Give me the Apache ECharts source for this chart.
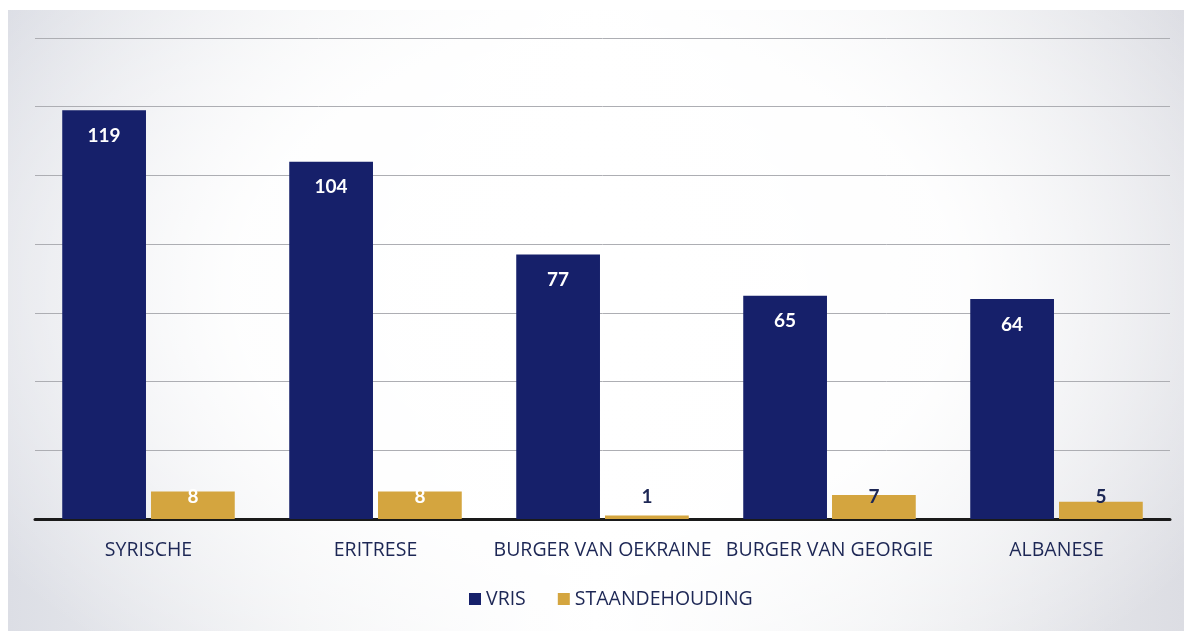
<!DOCTYPE html>
<html>
<head>
<meta charset="utf-8">
<script src="https://cdn.jsdelivr.net/npm/echarts@6/dist/echarts.min.js"></script>
<style>
  html, body { margin: 0; padding: 0; background: #ffffff; }
  #wrap { position: relative; width: 1184px; height: 631px; overflow: hidden; background: #ffffff; }
  #panel {
    position: absolute; left: 8px; top: 10px; width: 1176px; height: 621px;
    background:
      radial-gradient(ellipse 62% 78% at 50% 45%, rgba(255,255,255,1) 0%, rgba(255,255,255,0.92) 50%, rgba(255,255,255,0) 100%),
      linear-gradient(90deg, #dcdee5 0%, #f0f1f3 25%, #ffffff 50%, #eff0f2 75%, #dcdde3 100%);
  }
  #chart { position: absolute; left: 0; top: 0; width: 1184px; height: 631px; }
</style>
</head>
<body>
<div id="wrap">
  <div id="panel"></div>
  <div id="chart"></div>
</div>
<script>
// Nationalities and counts per measure
const categories = ['SYRISCHE', 'ERITRESE', 'BURGER VAN OEKRAINE', 'BURGER VAN GEORGIE', 'ALBANESE'];
const vris = [119, 104, 77, 65, 64];
const staandehouding = [8, 8, 1, 7, 5];
// Small counts whose label is written in dark text instead of white
const darkLabelIndex = [2, 3, 4];

const NAVY = '#16206a';
const GOLD = '#d4a53f';
const TEXT = '#1d2755';
const FONT = '"Open Sans", Lato, sans-serif';
const NUM_FONT = 'Lato, "Open Sans", sans-serif';

const chart = echarts.init(document.getElementById('chart'), null, { renderer: 'canvas' });

chart.setOption({
  backgroundColor: 'transparent',
  animation: false,
  grid: { left: 35, right: 14, top: 38, bottom: 112, containLabel: false },
  legend: {
    bottom: 17,
    left: 464,
    itemWidth: 12,
    itemHeight: 12,
    itemGap: 32,
    itemTextGap: 6,
    icon: 'rect',
    textStyle: { color: TEXT, fontFamily: FONT, fontSize: 19.5 },
    data: ['VRIS', 'STAANDEHOUDING']
  },
  xAxis: {
    type: 'category',
    data: categories,
    axisLine: { show: true, lineStyle: { color: '#1a1a1a', width: 3 } },
    axisTick: { show: false },
    axisLabel: { color: TEXT, fontFamily: FONT, fontSize: 19.5, margin: 21, interval: 0 }
  },
  yAxis: {
    type: 'value',
    min: 0,
    max: 140,
    interval: 20,
    axisLine: { show: false },
    axisTick: { show: false },
    axisLabel: { show: false },
    splitLine: { lineStyle: { color: '#adaeb3', width: 1 } }
  },
  series: [
    {
      name: 'VRIS',
      type: 'bar',
      data: vris,
      barGap: '6%',
      barCategoryGap: '24%',
      itemStyle: { color: NAVY },
      label: {
        show: true,
        position: 'insideTop',
        distance: 16,
        color: '#ffffff',
        fontFamily: NUM_FONT,
        fontWeight: 'bold',
        fontSize: 19
      }
    },
    {
      name: 'STAANDEHOUDING',
      type: 'bar',
      data: staandehouding.map((v, i) => ({
        value: v,
        label: { color: darkLabelIndex.includes(i) ? TEXT : '#ffffff' }
      })),
      itemStyle: { color: GOLD },
      label: {
        show: true,
        position: 'insideBottom',
        distance: 13,
        fontFamily: NUM_FONT,
        fontWeight: 'bold',
        fontSize: 19
      }
    }
  ]
});
</script>
</body>
</html>
